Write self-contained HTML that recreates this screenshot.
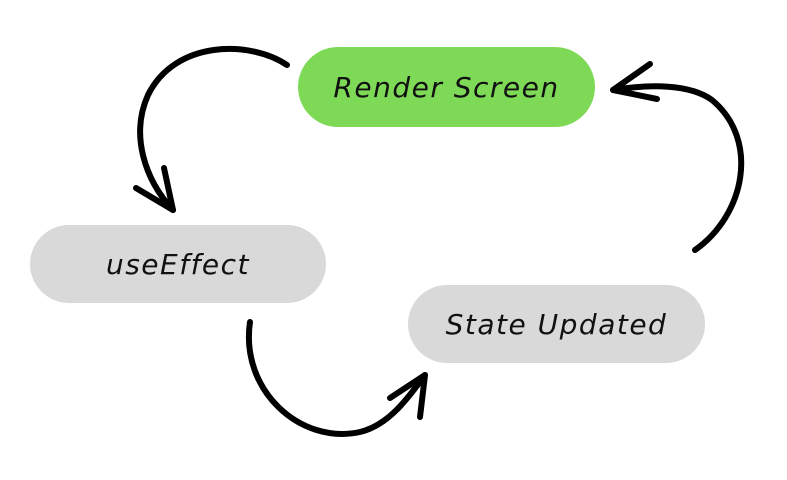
<!DOCTYPE html>
<html><head><style>
body{margin:0;width:787px;height:480px;background:#fff;overflow:hidden;position:relative;font-family:"DejaVu Sans","Liberation Sans",sans-serif}
.p{position:absolute;border-radius:40px;display:flex;align-items:center;justify-content:center;font-style:italic;font-size:28px;letter-spacing:1.5px;color:#111}
</style></head><body>
<div class="p" style="left:298px;top:47px;width:297px;height:80px;background:#7ED957">Render Screen</div>
<div class="p" style="left:30px;top:225px;width:296px;height:78px;background:#D9D9D9">useEffect</div>
<div class="p" style="left:408px;top:285px;width:297px;height:78px;background:#D9D9D9">State Updated</div>
<svg width="787" height="480" style="position:absolute;left:0;top:0" fill="none" stroke="#000" stroke-width="6" stroke-linecap="round" stroke-linejoin="round">
<path d="M287,65 C250,40 175,40 148,95 C130,135 145,180 173,210"/>
<path d="M136,188 L173,210 L164,168"/>
<path d="M250,322 C240,390 300,445 360,432 C390,425 410,395 425,375"/>
<path d="M390,398 L425,375 L420,417"/>
<path d="M695,250 C745,215 760,140 712,100 C690,84 650,84 613,90"/>
<path d="M650,64 L613,90 L657,99"/>
</svg>
</body></html>
